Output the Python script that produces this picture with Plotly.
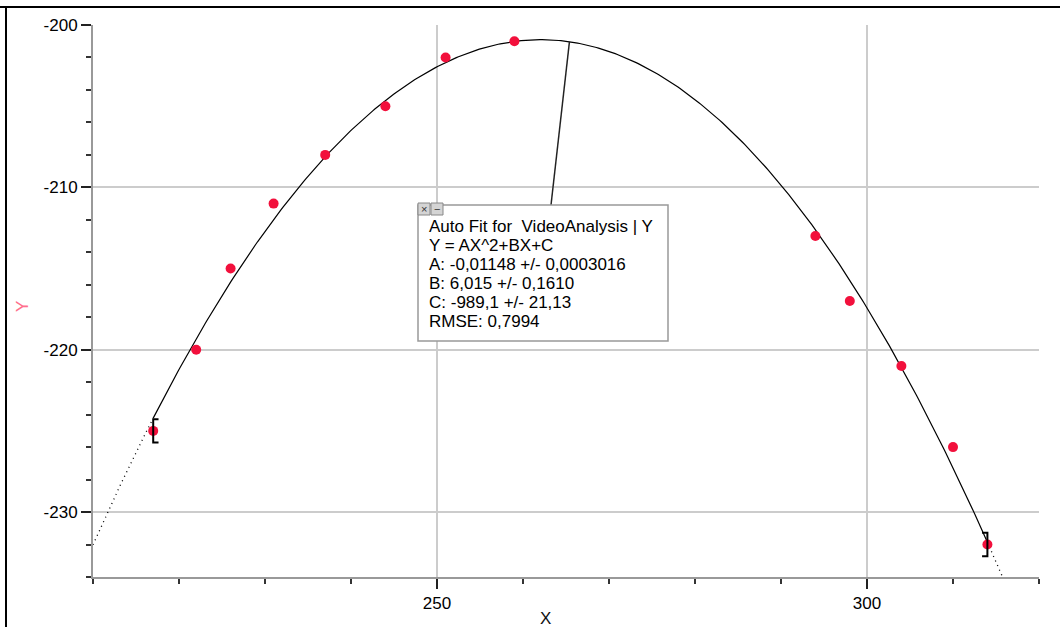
import numpy as np
import plotly.graph_objects as go

# ---- data ----
x_vals = [217, 222, 226, 231, 237, 244, 251, 259, 294, 298, 304, 310, 314]
y_vals = [-225, -220, -215, -211, -208, -205, -202, -201, -213, -217, -221, -226, -232]

# text of the fit box
fit_lines = [
    "Auto Fit for  VideoAnalysis | Y",
    "Y = AX^2+BX+C",
    "A: -0,01148 +/- 0,0003016",
    "B: 6,015 +/- 0,1610",
    "C: -989,1 +/- 21,13",
    "RMSE: 0,7994",
]
x_ticks = [250, 300]
y_ticks = [-200, -210, -220, -230]

X_RANGE = [210, 320]
Y_RANGE = [-234, -200]

# quadratic least-squares fit of the data (the "Auto Fit" curve)
coef = np.polyfit(x_vals, y_vals, 2)

def fit(x):
    return np.polyval(coef, np.asarray(x, dtype=float))

x_lo, x_hi = min(x_vals), max(x_vals)
xs_solid = np.linspace(x_lo, x_hi, 400)
xs_left = np.linspace(X_RANGE[0], x_lo, 60)
xs_right = np.linspace(x_hi, 316, 40)

fig = go.Figure()
dotline = dict(color="black", width=1.3, dash="1px,4px")
fig.add_trace(go.Scatter(x=xs_left, y=fit(xs_left), mode="lines", line=dotline,
                         hoverinfo="skip", showlegend=False))
fig.add_trace(go.Scatter(x=xs_right, y=fit(xs_right), mode="lines", line=dotline,
                         hoverinfo="skip", showlegend=False))
fig.add_trace(go.Scatter(x=xs_solid, y=fit(xs_solid), mode="lines",
                         line=dict(color="black", width=1.2),
                         hoverinfo="skip", showlegend=False))
fig.add_trace(go.Scatter(x=x_vals, y=y_vals, mode="markers",
                         marker=dict(color="#f2103c", size=10),
                         showlegend=False))

# fit-range brackets
bw = 0.62
bh = 0.72
for xb, yb, d in [(x_vals[0], y_vals[0], 1), (x_vals[-1], y_vals[-1], -1)]:
    fig.add_shape(type="path",
                  path=f"M {xb + d*bw} {yb + bh} L {xb} {yb + bh} L {xb} {yb - bh} L {xb + d*bw} {yb - bh}",
                  line=dict(color="black", width=2), xref="x", yref="y")

# annotation box geometry (plot area: 946 x 552 px)
PW, PH = 946.0, 552.0
def px_x(px):  # pixel from plot left -> data x
    return X_RANGE[0] + px / PW * (X_RANGE[1] - X_RANGE[0])
def px_y(py):  # pixel from plot top -> data y
    return Y_RANGE[1] - py / PH * (Y_RANGE[1] - Y_RANGE[0])

bx0, bx1 = px_x(418 - 93), px_x(668 - 93)
by0, by1 = px_y(205 - 25), px_y(341 - 25)

# connector line from curve to box
xc = 265.4
fig.add_shape(type="line", x0=xc, y0=float(fit(xc)), x1=px_x(551 - 93), y1=by0,
              line=dict(color="#222222", width=1.5), xref="x", yref="y")

fig.add_shape(type="rect", x0=bx0, x1=bx1, y0=by0, y1=by1,
              line=dict(color="#999999", width=1.5), fillcolor="white",
              xref="x", yref="y", layer="above")
# small title-bar buttons
for i, sym in enumerate(["×", "−"]):
    x0 = px_x(418 - 93 + i * 13)
    x1 = px_x(418 - 93 + i * 13 + 12)
    fig.add_shape(type="rect", x0=x0, x1=x1, y0=px_y(203 - 25), y1=px_y(215 - 25),
                  line=dict(color="#888888", width=1), fillcolor="#d4d4d4",
                  xref="x", yref="y", layer="above")
    fig.add_annotation(x=(x0 + x1) / 2, y=px_y(209 - 25), text=sym, showarrow=False,
                       font=dict(family="Liberation Sans, Arial", size=11, color="#333333"),
                       xanchor="center", yanchor="middle")

for i, line in enumerate(fit_lines):
    fig.add_annotation(x=px_x(427 - 93), y=px_y(226 - 25 + 19 * i), text=line,
                       showarrow=False, xanchor="left", yanchor="middle",
                       font=dict(family="Liberation Sans, Arial", size=17, color="black"))

# axis titles
fig.add_annotation(x=(545 - 93) / PW, y=(577 - 618) / PH, xref="paper", yref="paper",
                   text="X", showarrow=False, xanchor="center", yanchor="middle",
                   font=dict(family="Liberation Sans, Arial", size=17, color="#111111"))
fig.add_annotation(x=(22 - 93) / PW, y=(577 - 307) / PH, xref="paper", yref="paper",
                   text="Y", showarrow=False, textangle=-90, xanchor="center", yanchor="middle",
                   font=dict(family="Liberation Sans, Arial", size=17, color="#ff6f8c"))

# outer frame (top and left)
fig.add_shape(type="line", xref="paper", yref="paper",
              x0=(0 - 93) / PW, x1=(1060 - 93) / PW, y0=(577 - 7) / PH, y1=(577 - 7) / PH,
              line=dict(color="black", width=2))
fig.add_shape(type="line", xref="paper", yref="paper",
              x0=(6 - 93) / PW, x1=(6 - 93) / PW, y0=(577 - 7) / PH, y1=(577 - 640) / PH,
              line=dict(color="black", width=2))

axis_common = dict(
    showline=True, linecolor="#999999", linewidth=2, mirror=False,
    showgrid=True, gridcolor="#cccccc", gridwidth=1.5,
    zeroline=False, ticks="outside", ticklen=10, tickwidth=1.5, tickcolor="#222222",
    tickfont=dict(family="Liberation Sans, Arial", size=17, color="black"),
)
fig.update_xaxes(range=X_RANGE, tickmode="array", tickvals=x_ticks,
                 ticktext=[str(v) for v in x_ticks],
                 minor=dict(tickmode="linear", tick0=0, dtick=10, ticklen=5,
                            tickcolor="#333333", tickwidth=1.5, showgrid=False),
                 **axis_common)
fig.update_yaxes(range=Y_RANGE, tickmode="array", tickvals=y_ticks,
                 ticktext=[str(v) for v in y_ticks],
                 minor=dict(tickmode="linear", tick0=0, dtick=2, ticklen=5,
                            tickcolor="#333333", tickwidth=1.5, showgrid=False),
                 **axis_common)

fig.update_layout(
    width=1060, height=627,
    margin=dict(l=93, r=21, t=25, b=50),
    plot_bgcolor="white", paper_bgcolor="white",
    showlegend=False,
)

fig.write_html("out.html")
